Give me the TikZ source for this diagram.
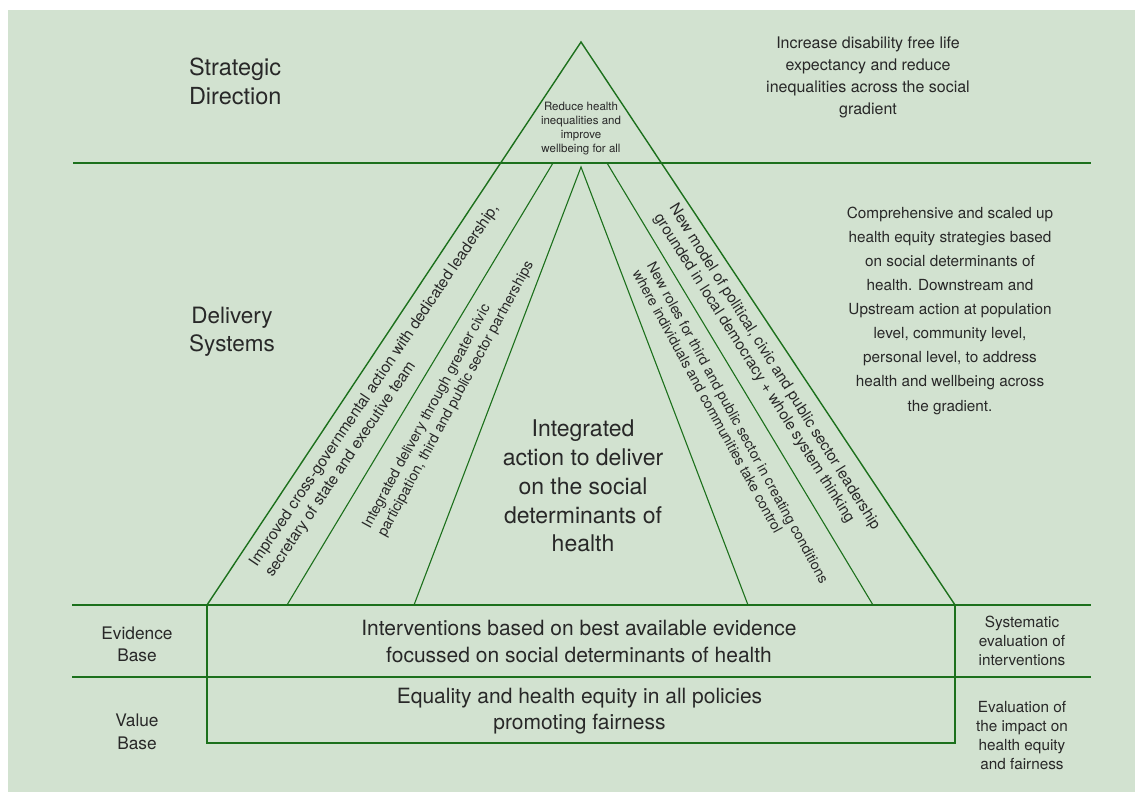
\documentclass[tikz,border=0pt]{standalone}
\usepackage{fontspec}
\setmainfont{TeX Gyre Heros}
\definecolor{bg}{RGB}{210,226,208}
\definecolor{ln}{RGB}{28,112,28}
\definecolor{tx}{RGB}{40,40,40}
\begin{document}
\begin{tikzpicture}[x=1pt,y=-1pt,
  every node/.style={inner sep=0pt, outer sep=0pt, text=tx},
  hline/.style={draw=ln, line width=1.8pt},
  side/.style={draw=ln, line width=1.4pt},
  inner/.style={draw=ln, line width=1.1pt},
  boxline/.style={draw=ln, line width=1.6pt},
  lbl/.style={anchor=north, align=center},
  strip/.style={anchor=north west, align=left}
]
\useasboundingbox (0,0) rectangle (1135,792);
\fill[bg] (8,10) rectangle (1135,792);

% coordinates
\coordinate (A) at (581,42);
\coordinate (BL) at (207,605);
\coordinate (BR) at (955,605);
\coordinate (IA) at (581,167);
\coordinate (IL) at (414,605);
\coordinate (IR) at (748,605);
\coordinate (L1t) at (553,163);
\coordinate (L1b) at (287,605);
\coordinate (R1t) at (607,163);
\coordinate (R1b) at (873,605);
\coordinate (H1a) at (73,163);
\coordinate (H1b) at (1091,163);
\coordinate (H2a) at (72,605);
\coordinate (H2b) at (1091,605);
\coordinate (H3a) at (72,677);
\coordinate (H3b) at (1091,677);
\coordinate (BoxBL) at (207,743);
\coordinate (BoxBR) at (955,743);

% horizontal lines
\draw[hline] (H1a) -- (H1b);
\draw[hline] (H2a) -- (H2b);
\draw[hline] (H3a) -- (H3b);
% box
\draw[boxline] (BL) -- (BoxBL) -- (BoxBR) -- (BR);
% triangles
\draw[side] (BL) -- (A) -- (BR);
\draw[inner] (IL) -- (IA) -- (IR);
\draw[inner] (L1t) -- (L1b);
\draw[inner] (R1t) -- (R1b);

% texts
\node[anchor=north west, align=left, font=\fontsize{23.5}{29}\selectfont] (strat) at (189,58) {Strategic\\Direction};
\node[lbl, font=\fontsize{22.5}{28}\selectfont] (deliv) at (232,307) {Delivery\\Systems};
\node[lbl, font=\fontsize{16}{22}\selectfont] (goal) at (868,36.3) {Increase disability free life\\expectancy and reduce\\inequalities across the social\\gradient};
\node[lbl, font=\fontsize{15.3}{24.1}\selectfont] (compr) at (950,206.8) {Comprehensive and scaled up\\health equity strategies based\\on social determinants of\\health. Downstream and\\Upstream action at population\\level, community level,\\personal level, to address\\health and wellbeing across\\the gradient.};
\node[lbl, font=\fontsize{11.5}{13.7}\selectfont] (apex) at (581,102.6) {Reduce health\\inequalities and\\improve\\wellbeing for all};
\node[lbl, font=\fontsize{23}{28.75}\selectfont] (integ) at (583,420.2) {Integrated\\action to deliver\\on the social\\determinants of\\health};
\node[lbl, font=\fontsize{21}{27}\selectfont] (interv) at (579,619.7) {Interventions based on best available evidence\\focussed on social determinants of health};
\node[lbl, font=\fontsize{21}{26}\selectfont] (equal) at (579.5,687.7) {Equality and health equity in all policies\\promoting fairness};
\node[lbl, font=\fontsize{17.3}{22}\selectfont] (evid) at (137,626.4) {Evidence\\Base};
\node[lbl, font=\fontsize{17.3}{23}\selectfont] (value) at (137,713.4) {Value\\Base};
\node[lbl, font=\fontsize{15.3}{19}\selectfont] (syst) at (1022,615.8) {Systematic\\evaluation of\\interventions};
\node[lbl, font=\fontsize{15.3}{19}\selectfont] (evalu) at (1022,700.8) {Evaluation of\\the impact on\\health equity\\and fairness};

% rotated strip texts
\node[strip, rotate=56, font=\fontsize{15.5}{19}\selectfont] (s1) at (247.6,560.7) {Improved cross-governmental action with dedicated leadership,\\secretary of state and executive team};
\node[strip, rotate=61.5, font=\fontsize{14.4}{17.5}\selectfont] (s2) at (360.8,524) {Integrated delivery through greater civic\\participation, third and public sector partnerships};
\node[strip, rotate=-61.4, font=\fontsize{14.2}{16.5}\selectfont] (s3) at (655.8,261) {New roles for third and public sector in creating conditions\\where individuals and communities take control};
\node[strip, rotate=-57.7, font=\fontsize{15.3}{18}\selectfont] (s4) at (678.5,202) {New model of political, civic and public sector leadership\\grounded in local democracy + whole system thinking};
\end{tikzpicture}
\end{document}
